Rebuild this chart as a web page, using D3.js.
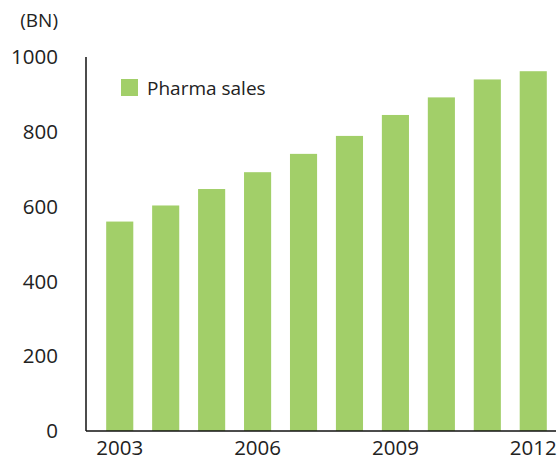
<!DOCTYPE html>
<html>
<head>
<meta charset="utf-8">
<script src="https://cdn.jsdelivr.net/npm/d3@7"></script>
<style>
  body { margin: 0; background: #fff; }
  text { font-family: "Open Sans", sans-serif; fill: #222; }
</style>
</head>
<body>
<script>
var years = [2003, 2004, 2005, 2006, 2007, 2008, 2009, 2010, 2011, 2012];
var sales = [560, 603, 647, 692, 741, 789, 845, 892, 940, 962];
var yTicks = [0, 200, 400, 600, 800, 1000];
var xLabels = [2003, 2006, 2009, 2012];
var seriesName = "Pharma sales";
var unitLabel = "(BN)";

var w = 560;
var h = 463;
var barColor = "#a2cf69";

var svg = d3.select("body")
    .append("svg")
    .attr("width", w)
    .attr("height", h);

var yScale = d3.scaleLinear()
    .domain([0, 1000])
    .range([431, 57]);

var xScale = d3.scaleBand()
    .domain(years)
    .range([97, 556])
    .paddingInner(0.41)
    .paddingOuter(0.2);

// bars
svg.selectAll("rect.bar")
    .data(sales)
    .enter()
    .append("rect")
    .attr("class", "bar")
    .attr("x", function(d, i) { return xScale(years[i]); })
    .attr("y", function(d) { return yScale(d); })
    .attr("width", xScale.bandwidth())
    .attr("height", function(d) { return yScale(0) - yScale(d); })
    .attr("fill", barColor);

// axis lines, no ticks
svg.append("line")
    .attr("x1", 86).attr("x2", 86)
    .attr("y1", yScale(1000)).attr("y2", yScale(0))
    .attr("stroke", "#111").attr("stroke-width", 1.5);
svg.append("line")
    .attr("x1", 86).attr("x2", 556)
    .attr("y1", yScale(0)).attr("y2", yScale(0))
    .attr("stroke", "#111").attr("stroke-width", 1.5);

// y tick labels
svg.selectAll("text.ytick")
    .data(yTicks)
    .enter()
    .append("text")
    .attr("class", "ytick")
    .attr("x", 58)
    .attr("y", function(d) { return yScale(d); })
    .attr("dy", "0.35em")
    .attr("text-anchor", "end")
    .style("font-size", "20.5px")
    .text(function(d) { return d; });

svg.append("text")
    .attr("x", 58)
    .attr("y", 20)
    .attr("dy", "0.35em")
    .attr("text-anchor", "end")
    .style("font-size", "19px")
    .text(unitLabel);

// x labels
svg.selectAll("text.xtick")
    .data(xLabels)
    .enter()
    .append("text")
    .attr("class", "xtick")
    .attr("x", function(d) { return xScale(d) + xScale.bandwidth() / 2; })
    .attr("y", 448)
    .attr("dy", "0.35em")
    .attr("text-anchor", "middle")
    .style("font-size", "20.5px")
    .text(function(d) { return d; });

// legend
svg.append("rect")
    .attr("x", 121).attr("y", 79)
    .attr("width", 17).attr("height", 17)
    .attr("fill", barColor);
svg.append("text")
    .attr("x", 147)
    .attr("y", 88)
    .attr("dy", "0.35em")
    .style("font-size", "19px")
    .text(seriesName);
</script>
</body>
</html>
